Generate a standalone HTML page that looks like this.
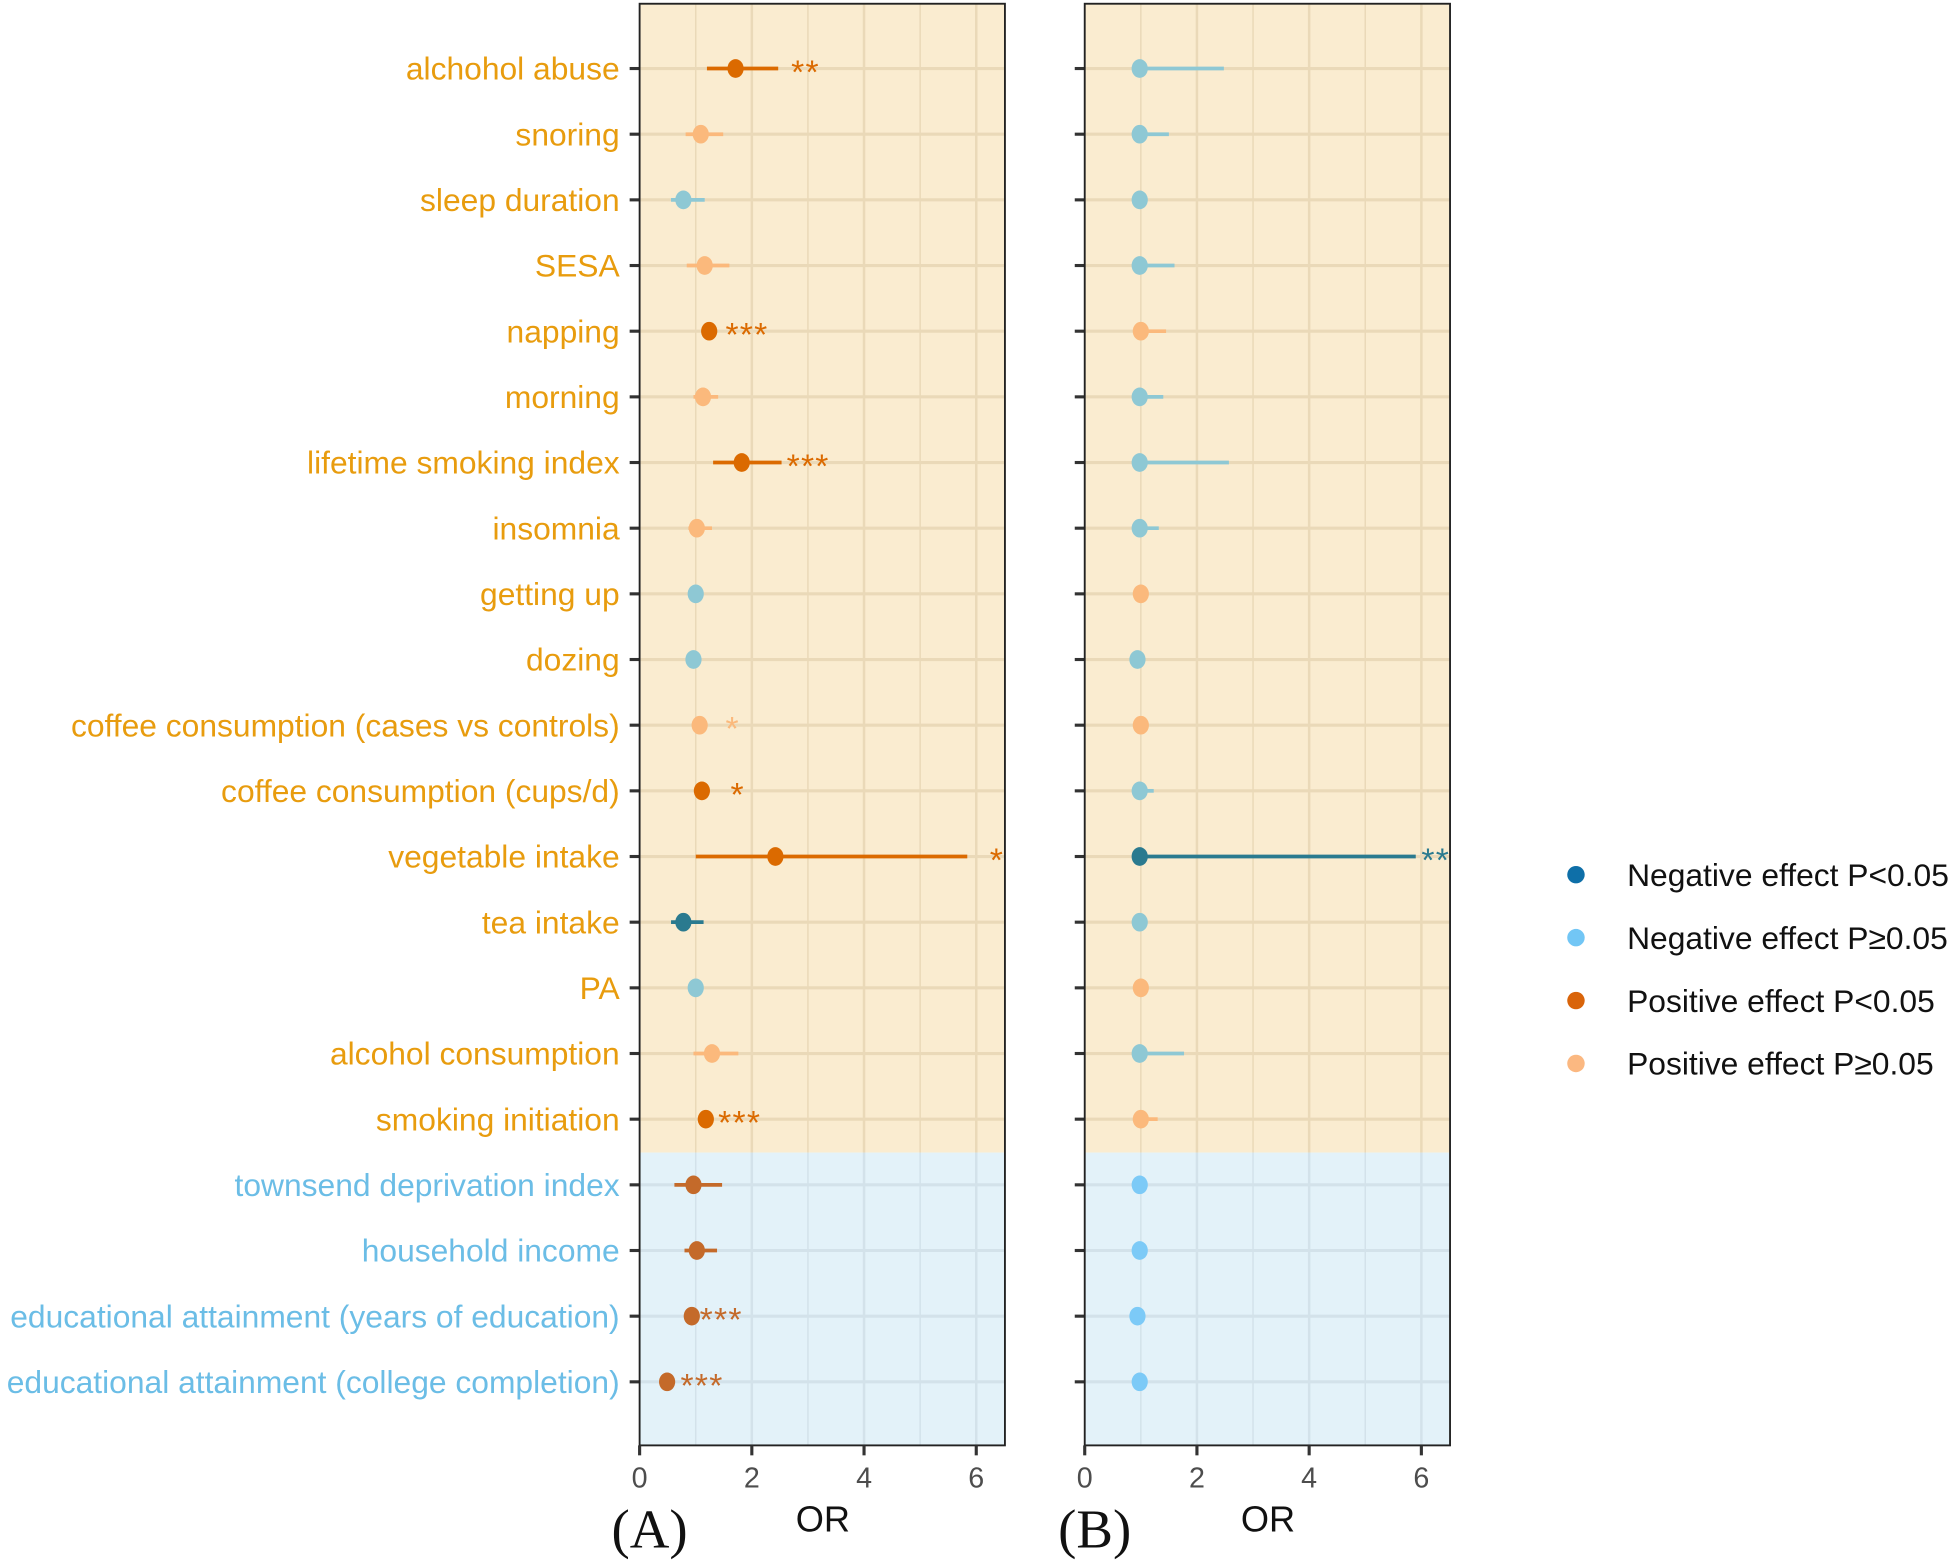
<!DOCTYPE html>
<html><head><meta charset="utf-8"><style>
html,body{margin:0;padding:0;background:#fff;}
svg{display:block;font-family:"Liberation Sans",Arial,sans-serif;}
</style></head><body>
<svg id="chart" width="1955" height="1565" viewBox="0 0 1568 1256" preserveAspectRatio="none" xmlns="http://www.w3.org/2000/svg"></svg>
<script>
const labels=["alchohol abuse","snoring","sleep duration","SESA","napping","morning","lifetime smoking index","insomnia","getting up","dozing","coffee consumption (cases vs controls)","coffee consumption (cups/d)","vegetable intake","tea intake","PA","alcohol consumption","smoking initiation","townsend deprivation index","household income","educational attainment (years of education)","educational attainment (college completion)"];
const groupIsBlue=[0,0,0,0,0,0,0,0,0,0,0,0,0,0,0,0,0,1,1,1,1];
const aOR=[1.71,1.09,0.78,1.16,1.24,1.13,1.82,1.02,1.0,0.96,1.07,1.11,2.42,0.78,1.0,1.29,1.18,0.96,1.02,0.93,0.49];
const aLo=[1.2,0.82,0.56,0.84,1.16,0.96,1.31,0.87,1.0,0.96,1.07,1.11,1.0,0.56,1.0,0.96,1.18,0.62,0.8,0.93,0.49];
const aHi=[2.47,1.49,1.16,1.6,1.38,1.4,2.53,1.29,1.0,0.96,1.07,1.11,5.84,1.14,1.0,1.76,1.18,1.47,1.38,0.93,0.49];
const aCol=["pd","pl","nl","pl","pd","pl","pd","pl","nl","nl","pl","pd","pd","nd","nl","pl","pd","br","br","br","br"];
const aStar=["**","","","","***","","***","","","","*","*","*","","","","***","","","***","***"];
const aStarX=[2.7,0,0,0,1.53,0,2.62,0,0,0,1.53,1.62,6.24,0,0,0,1.4,0,0,1.07,0.73];
const bOR=[0.98,0.98,0.98,0.98,1.0,0.98,0.98,0.98,1.0,0.94,1.0,0.98,0.98,0.98,1.0,0.98,1.0,0.98,0.98,0.94,0.98];
const bLo=[0.98,0.98,0.98,0.98,1.0,0.98,0.98,0.98,1.0,0.94,1.0,0.98,0.98,0.98,1.0,0.98,1.0,0.98,0.98,0.94,0.98];
const bHi=[2.48,1.5,0.98,1.6,1.45,1.4,2.57,1.32,1.0,0.94,1.0,1.23,5.9,0.98,1.0,1.77,1.3,0.98,0.98,0.94,0.98];
const bCol=["nl","nl","nl","nl","pl","nl","nl","nl","pl","nl","pl","nl","nd","nl","pl","nl","pl","bl","bl","bl","bl"];
const bStar=["","","","","","","","","","","","","**","","","","","","","",""];
const bStarX=[0,0,0,0,0,0,0,0,0,0,0,0,6.0,0,0,0,0,0,0,0,0];
const xTicks=[0,2,4,6];
const legendLabels=["Negative effect P<0.05","Negative effect P\u22650.05","Positive effect P<0.05","Positive effect P\u22650.05"];
const legendColors=["#0e6fa8","#72c6f5","#d9640a","#fbb881"];

const C={pd:"#db6a00",pl:"#fbb97c",nl:"#8ec8d4",nd:"#2a7a8f",br:"#c46a2a",bl:"#7ccaf7"};
const NS="http://www.w3.org/2000/svg";
const svg=document.getElementById('chart');
function el(t,a,p){const e=document.createElementNS(NS,t);for(const k in a)e.setAttribute(k,a[k]);(p||svg).appendChild(e);return e;}
const top0=3,bot0=1160,row0=55,rowStep=52.7,blueStart=925;
const yOf=i=>row0+i*rowStep;
function panel(x0,name,OR,Lo,Hi,Col,Star,StarX,letter){
  const w=293,unit=45;const xs=v=>x0+v*unit;
  const g=el('g',{});
  
  
  let r=el('rect',{x:x0,y:top0,width:w,height:blueStart-top0,fill:"#faecd0"},g);
  
  r=el('rect',{x:x0,y:blueStart,width:w,height:bot0-blueStart,fill:"#e3f2f9"},g);
  
  for(let v=1;v<=6;v++){
    el('line',{x1:xs(v),x2:xs(v),y1:top0,y2:blueStart,stroke:"#ead9b8","stroke-width":v%2?1.2:2},g);
    el('line',{x1:xs(v),x2:xs(v),y1:blueStart,y2:bot0,stroke:"#d3e2ea","stroke-width":v%2?1.2:2},g);
  }
  labels.forEach((l,i)=>{
    el('line',{x1:x0,x2:x0+w,y1:yOf(i),y2:yOf(i),stroke:groupIsBlue[i]?"#d3e2ea":"#ead9b8","stroke-width":2.5},g);
    el('line',{x1:x0-8,x2:x0,y1:yOf(i),y2:yOf(i),stroke:"#333","stroke-width":2.5},g);
  });
  labels.forEach((l,i)=>{
    const c=C[Col[i]];
    if(Hi[i]>Lo[i]){const ln=el('line',{x1:xs(Lo[i]),x2:xs(Hi[i]),y1:yOf(i),y2:yOf(i),stroke:c,"stroke-width":3},g);
      }
    const p=el('ellipse',{cx:xs(OR[i]),cy:yOf(i),rx:6.5,ry:7.5,fill:c},g);
    
    if(Star[i]){const t=el('text',{x:xs(StarX[i]),y:yOf(i)+12,fill:c,"font-size":27,"text-anchor":"start","letter-spacing":1},g);t.textContent=Star[i];
      }
  });
  el('rect',{x:x0,y:top0,width:w,height:bot0-top0,fill:"none",stroke:"#222","stroke-width":1.5},g);
  xTicks.forEach(v=>{
    el('line',{x1:xs(v),x2:xs(v),y1:bot0,y2:bot0+8,stroke:"#333","stroke-width":2.5},g);
    const t=el('text',{x:xs(v),y:bot0+34,fill:"#4d4d4d","font-size":23,"text-anchor":"middle"},g);t.textContent=v;
    
  });
  const o=el('text',{x:x0+147,y:1229,fill:"#111","font-size":29,"text-anchor":"middle"},g);o.textContent="OR";
  
  const L=el('text',{x:x0+8,y:1242,fill:"#111","font-size":44,"text-anchor":"middle","font-family":"Liberation Serif,serif"},g);L.textContent=letter;
  
}
labels.forEach((l,i)=>{
  const t=el('text',{x:497,y:yOf(i)+9,fill:groupIsBlue[i]?"#6bbde6":"#e89c0e","font-size":25.5,"text-anchor":"end"});
  t.textContent=l;
  
  
});
panel(513,'panel-a',aOR,aLo,aHi,aCol,aStar,aStarX,"(A)");
panel(870,'panel-b',bOR,bLo,bHi,bCol,bStar,bStarX,"(B)");
legendLabels.forEach((l,i)=>{
  const y=702+i*50.5;
  const c=el('circle',{cx:1264,cy:y,r:7,fill:legendColors[i]});
  
  
  const t=el('text',{x:1305,y:y+9,fill:"#111","font-size":25.5});
  t.textContent=l;
  
  
});
</script>
</body></html>
